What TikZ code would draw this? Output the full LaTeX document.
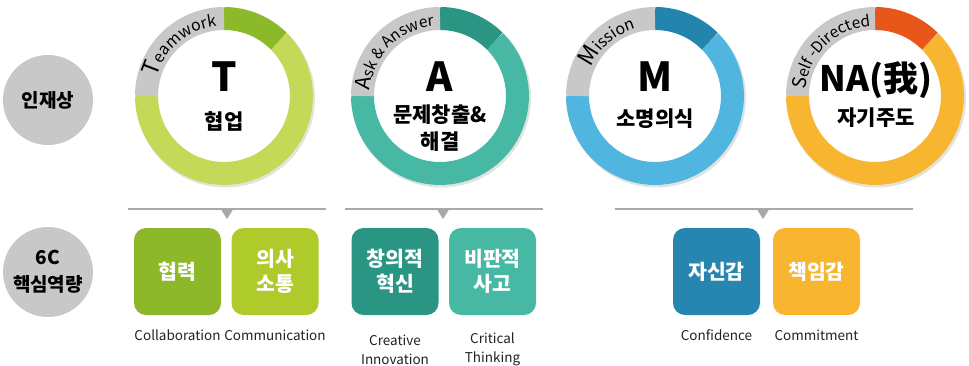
\documentclass[tikz,border=0pt]{standalone}
\usepackage{fontspec}
\setmainfont{Noto Sans CJK KR}
\usetikzlibrary{decorations.text,calc}
\definecolor{ringgray}{HTML}{C8C8C8}
\definecolor{shadowgray}{HTML}{E2E2E2}
\definecolor{linegray}{HTML}{A9A9A9}
\definecolor{tLight}{HTML}{C3D957}
\definecolor{tDark}{HTML}{8BB92A}
\definecolor{tBoxA}{HTML}{8CB82A}
\definecolor{tBoxB}{HTML}{AFCB2B}
\definecolor{aLight}{HTML}{46B8A3}
\definecolor{aDark}{HTML}{2A9582}
\definecolor{mLight}{HTML}{51B6DF}
\definecolor{mDark}{HTML}{2384AD}
\definecolor{mBox}{HTML}{2786AF}
\definecolor{nLight}{HTML}{F7B530}
\definecolor{nDark}{HTML}{E9561A}
\definecolor{labelcol}{HTML}{222222}
\newcommand\myDonut[4]{%
  \coordinate (#1) at #2;
  \fill[shadowgray] ($(#1)+(1.5,-2)$) circle[radius=89.5];
  \fill[white] (#1) circle[radius=89];
  \draw[ringline, draw=#3] ($(#1)+(45:77.5)$) arc[start angle=45, end angle=-180, radius=77.5];
  \draw[ringline, draw=#4] ($(#1)+(90:77.5)$) arc[start angle=90, end angle=45, radius=77.5];
  \draw[ringline, draw=ringgray] ($(#1)+(180:77.5)$) arc[start angle=180, end angle=90, radius=77.5];
}
\begin{document}
\begin{tikzpicture}[x=1pt,y=1pt,
  ringline/.style={line width=23pt},
  bigletter/.style={font=\fontsize{40}{40}\selectfont\bfseries, text=black, inner sep=0pt},
  ctext/.style={font=\fontsize{21}{27}\selectfont\bfseries, text=black, align=center, inner sep=0pt},
  sidecircle/.style={circle, fill=ringgray, minimum size=90pt, inner sep=0pt, align=center,
     font=\fontsize{19}{27}\selectfont\bfseries, text=black},
  cbox/.style={rounded corners=12pt, minimum width=87pt, minimum height=87pt, inner sep=0pt,
     align=center, text=white, font=\fontsize{20.5}{25}\selectfont\bfseries},
  lbl/.style={font=\fontsize{13.5}{19}\selectfont, text=labelcol, align=center, inner sep=0pt},
  barline/.style={draw=linegray, line width=2.6pt},
  pointer/.style={fill=linegray}
]
\useasboundingbox (0,0) rectangle (969,365);

% side circles
\node[sidecircle] (talent) at (48,265) {인재상};
\node[sidecircle] (core) at (48,93) {6C\\핵심역량};

% rings
\myDonut{T}{(224,269)}{tLight}{tDark}
\myDonut{A}{(440,269)}{aLight}{aDark}
\myDonut{M}{(655,269)}{mLight}{mDark}
\myDonut{N}{(875,269)}{nLight}{nDark}

% curved texts
\path[decorate, decoration={text along path, text align=center,
  text={|\fontsize{23}{23}\selectfont|T|\fontsize{16}{16}\selectfont|eamwork}}]
  ($(T)+(180:70)$) arc[start angle=180, end angle=80, radius=70];
\path[decorate, decoration={text along path, text align=center,
  text={|\fontsize{21}{21}\selectfont|A|\fontsize{15.5}{15.5}\selectfont|sk {\&} Answer}}]
  ($(A)+(184:70)$) arc[start angle=184, end angle=86, radius=70];
\path[decorate, decoration={text along path, text align=center,
  text={|\fontsize{23}{23}\selectfont|M|\fontsize{16}{16}\selectfont|ission}}]
  ($(M)+(180:70)$) arc[start angle=180, end angle=82, radius=70];
\path[decorate, decoration={text along path, text align=center,
  text={|\fontsize{19}{19}\selectfont|S|\fontsize{15.5}{15.5}\selectfont|elf -Directed}}]
  ($(N)+(184:70)$) arc[start angle=184, end angle=84, radius=70];

% center texts
\node[bigletter] (Tletter) at (224,288) {T};
\node[ctext] (Tword) at (224,244) {협업};
\node[bigletter] (Aletter) at (440,288) {A};
\node[ctext] (Aword) at (440,236.5) {문제창출\&\\해결};
\node[bigletter] (Mletter) at (655,288) {M};
\node[ctext] (Mword) at (655,246) {소명의식};
\node[bigletter, font=\fontsize{35}{35}\selectfont\bfseries] (Nletter) at (876,285) {NA(我)};
\node[ctext] (Nword) at (876,247) {자기주도};

% bars with pointers
\draw[barline] (128,156) -- (326,156);
\fill[pointer] (220,157) -- (234,157) -- (227,146) -- cycle;
\draw[barline] (345,156) -- (543,156);
\fill[pointer] (436,157) -- (450,157) -- (443,146) -- cycle;
\draw[barline] (615,156) -- (913,156);
\fill[pointer] (756,157) -- (770,157) -- (763,146) -- cycle;

% boxes
\node[cbox, fill=tBoxA] (collab) at (177.5,93.5) {협력};
\node[cbox, fill=tBoxB] (commu) at (275,93.5) {의사\\소통};
\node[cbox, fill=aDark] (creat) at (395,93.5) {창의적\\혁신};
\node[cbox, fill=aLight] (crit) at (492.5,93.5) {비판적\\사고};
\node[cbox, fill=mBox] (conf) at (716.5,93.5) {자신감};
\node[cbox, fill=nLight] (commit) at (816.5,93.5) {책임감};

% labels
\node[lbl] (collabL) at (177.5,30) {Collaboration};
\node[lbl] (commuL) at (275,30) {Communication};
\node[lbl] (creatL) at (395,15.5) {Creative\\Innovation};
\node[lbl] (critL) at (492.5,15.5) {Critical\\Thinking};
\node[lbl] (confL) at (716.5,30) {Confidence};
\node[lbl] (commitL) at (816.5,30) {Commitment};
\end{tikzpicture}
\end{document}
